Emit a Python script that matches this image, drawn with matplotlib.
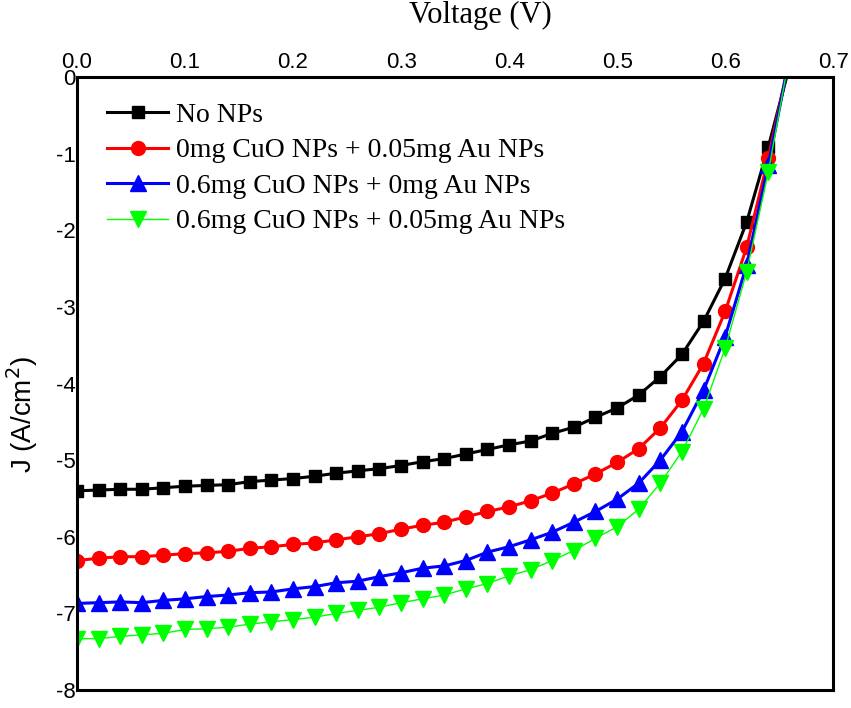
import numpy as np
import matplotlib
matplotlib.use("Agg")
import matplotlib.pyplot as plt

plt.rcParams['axes.unicode_minus'] = False
plt.rcParams['font.family'] = ['Liberation Sans', 'DejaVu Sans']

# voltage steps of the measured points (V)
v = np.arange(33) * 0.02

j_none = [-5.40, -5.39, -5.38, -5.38, -5.36, -5.34, -5.33, -5.32, -5.28, -5.26,
          -5.24, -5.21, -5.17, -5.14, -5.11, -5.07, -5.02, -4.98, -4.92, -4.86,
          -4.80, -4.75, -4.65, -4.57, -4.44, -4.32, -4.15, -3.91, -3.62, -3.19,
          -2.63, -1.89, -0.91]
j_au = [-6.31, -6.28, -6.26, -6.26, -6.24, -6.22, -6.21, -6.19, -6.15, -6.13,
        -6.10, -6.08, -6.04, -6.00, -5.96, -5.90, -5.85, -5.81, -5.74, -5.67,
        -5.61, -5.53, -5.43, -5.31, -5.18, -5.03, -4.85, -4.58, -4.22, -3.74,
        -3.06, -2.22, -1.06]
j_cuo = [-6.87, -6.86, -6.85, -6.86, -6.83, -6.81, -6.78, -6.76, -6.73, -6.72,
         -6.68, -6.65, -6.60, -6.58, -6.52, -6.47, -6.41, -6.38, -6.31, -6.20,
         -6.13, -6.04, -5.94, -5.81, -5.67, -5.51, -5.30, -5.00, -4.63, -4.09,
         -3.39, -2.45, -1.15]
j_both = [-7.33, -7.33, -7.30, -7.28, -7.26, -7.21, -7.20, -7.18, -7.14, -7.11,
          -7.08, -7.05, -7.00, -6.96, -6.92, -6.86, -6.81, -6.76, -6.68, -6.61,
          -6.51, -6.43, -6.31, -6.18, -6.02, -5.87, -5.64, -5.30, -4.89, -4.33,
          -3.54, -2.54, -1.24]

# open circuit voltage where each curve crosses J = 0
voc = [0.657, 0.656, 0.656, 0.656]

labels = ["No NPs",
          "0mg CuO NPs + 0.05mg Au NPs",
          "0.6mg CuO NPs + 0mg Au NPs",
          "0.6mg CuO NPs + 0.05mg Au NPs"]
colors = ["black", "#ff0000", "#0000ff", "#00ff00"]
markers = ["s", "o", "^", "v"]
msizes = [9, 10, 11, 11]
widths = [2.2, 2.2, 2.2, 1.0]

fig = plt.figure(figsize=(8.51, 7.08), dpi=100)
ax = fig.add_axes([0.0905, 0.0254, 0.8885, 0.8658])

for j, vo, lab, c, m, ms, lw in zip([j_none, j_au, j_cuo, j_both], voc, labels,
                                     colors, markers, msizes, widths):
    xx = np.append(v, vo)
    yy = np.append(j, 0.0)
    ax.plot(xx, yy, color=c, lw=lw, marker=m, markersize=ms,
            markevery=list(range(len(v))), label=lab)

ax.set_xlim(0, 0.7)
ax.set_ylim(-8, 0)
ax.xaxis.tick_top()
ax.set_xticks(np.arange(0, 0.71, 0.1))
ax.set_xticklabels(["0.0", "0.1", "0.2", "0.3", "0.4", "0.5", "0.6", "0.7"])
ax.set_yticks(range(-8, 1))
ax.set_yticklabels([str(t) for t in range(-8, 1)])
ax.tick_params(axis='both', length=0, labelsize=16)
ax.tick_params(axis='x', pad=3)
ax.tick_params(axis='y', pad=1)
for s in ax.spines.values():
    s.set_linewidth(2.2)

fig.text(0.565, 0.978, "Voltage (V)", family="Liberation Serif", fontsize=22,
         ha="center", va="center")
fig.text(0.026, 0.415, "J (A/cm$^2$)", fontsize=20, rotation=90,
         ha="center", va="center")

ax.legend(loc="upper left", bbox_to_anchor=(0.014, 0.99), frameon=False,
          prop={"family": "Liberation Serif", "size": 20}, handlelength=2.2,
          handletextpad=0.3, labelspacing=0.36, borderpad=0.2)

fig.savefig("out.png", dpi=100)
